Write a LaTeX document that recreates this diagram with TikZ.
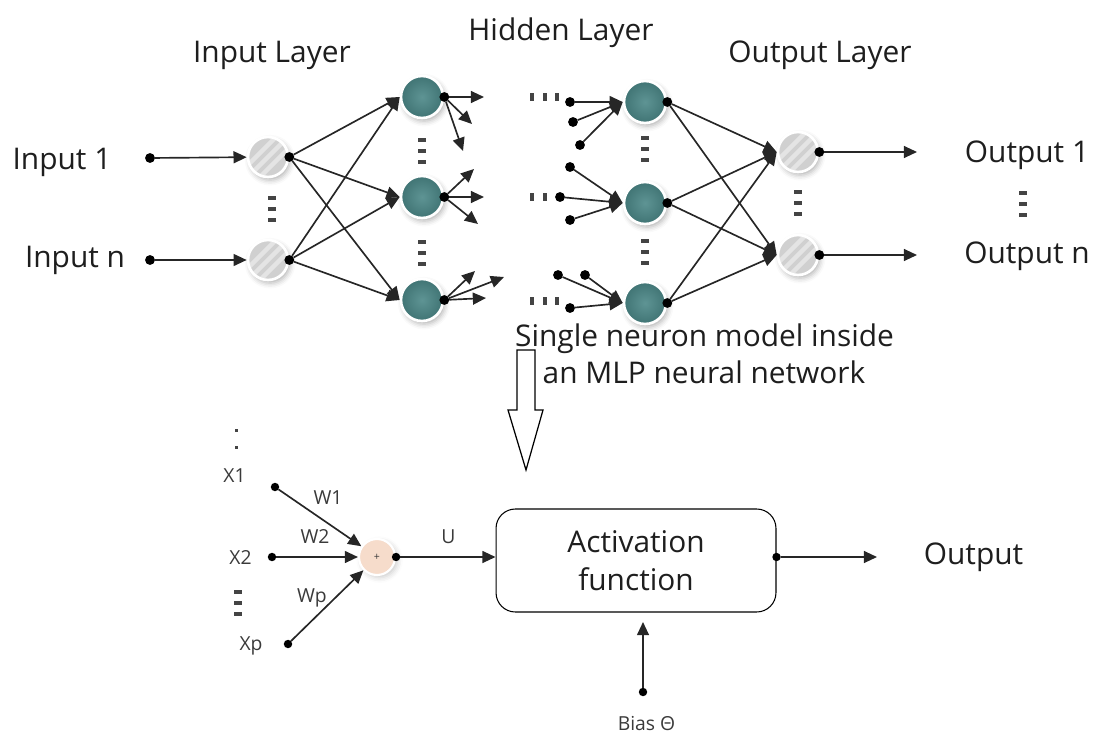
\documentclass[tikz,border=0pt]{standalone}
\usepackage{fontspec}
\setmainfont{Open Sans}
\usetikzlibrary{arrows.meta,shadows.blur}

\definecolor{inkcol}{HTML}{1E1E1E}
\definecolor{linecol}{HTML}{262626}
\definecolor{labelcol}{HTML}{3A3A3A}
\definecolor{tealin}{HTML}{5E9494}
\definecolor{tealout}{HTML}{407474}
\definecolor{greyfill}{HTML}{D0D0D0}
\definecolor{greystripe}{HTML}{E4E4E4}
\definecolor{peach}{HTML}{F6DCCB}
\definecolor{markcol}{HTML}{444444}

\begin{document}
\begin{tikzpicture}[x=0.02cm,y=-0.02cm,
  font=\fontsize{17}{21.5}\selectfont, text=inkcol,
  conn/.style={draw=linecol, line width=0.95pt, -{Triangle[length=7.5pt,width=6.8pt]}},
  dot/.style={circle, fill=black, inner sep=0pt, outer sep=0pt, minimum size=5.6pt},
  smalldot/.style={dot, minimum size=4.8pt},
  layerneuron/.style={circle, inner sep=0pt, draw=white, line width=1.5pt,
    blur shadow={shadow xshift=1.2pt, shadow yshift=-1.8pt, shadow blur radius=3pt, shadow opacity=30}},
  greyneuron/.style={layerneuron, minimum size=0.8cm, fill=greyfill,
    path picture={
      \begin{scope}[shift={(path picture bounding box.center)}]
        \foreach \k in {-12,0,12}
          \draw[greystripe, line width=2.5pt] (\k-25,25) -- (\k+25,-25);
      \end{scope}}},
  tealneuron/.style={layerneuron, minimum size=0.84cm, inner color=tealin, outer color=tealout},
  sumneuron/.style={circle, inner sep=0pt, minimum size=0.72cm, fill=peach, draw=white, line width=1.2pt,
    blur shadow={shadow xshift=1.5pt, shadow yshift=-1.5pt, shadow blur radius=3pt, shadow opacity=20},
    text=labelcol, font=\fontsize{6}{6}\selectfont},
  title/.style={anchor=base},
  smalllabel/.style={anchor=base, text=labelcol, font=\fontsize{11}{12}\selectfont},
  actbox/.style={draw=black, line width=0.6pt, rounded corners=11pt, minimum width=5.6cm,
    minimum height=2.06cm, align=center},
  stackmark/.pic={\foreach \k in {-1,0,1} \fill[markcol] (-3.8,\k*11-1.8) rectangle (3.8,\k*11+1.8);},
  tickmark/.pic={\fill[markcol] (-1.6,-4.2) rectangle (1.6,4.2);}
]
\useasboundingbox (0,0) rectangle (1094,733);

% ---------------- layer titles ----------------
\node[title] (tin)  at (272,62.5) {Input Layer};
\node[title] (thid) at (561,41)   {Hidden Layer};
\node[title] (tout) at (820,62.5) {Output Layer};

% ---------------- input layer ----------------
\node[title] (lin1) at (62,170) {Input 1};
\node[title] (linn) at (75,267) {Input n};
\node[dot] (s1) at (150,158) {};
\node[dot] (sn) at (150,260) {};
\node[greyneuron] (I1) at (268,157) {};
\node[greyneuron] (I2) at (268,260) {};
\node[dot] (i1o) at (I1.east) {};
\node[dot] (i2o) at (I2.east) {};
\draw[conn] (s1) -- (I1);
\draw[conn] (sn) -- (I2);
\pic at (272,209) {stackmark};

% ---------------- first hidden column ----------------
\node[tealneuron] (H1) at (422,97)  {};
\node[tealneuron] (H2) at (422,197) {};
\node[tealneuron] (H3) at (422,300) {};
\node[dot] (h1o) at (H1.east) {};
\node[dot] (h2o) at (H2.east) {};
\node[dot] (h3o) at (H3.east) {};
\pic at (422,151) {stackmark};
\pic at (422,253) {stackmark};

\foreach \src in {i1o,i2o}
  \foreach \dst in {H1,H2,H3}
    \draw[conn] (\src) -- (\dst.west);

% fan-out towards the next layer
\coordinate (f1a) at (484,97);  \coordinate (f1b) at (472,124); \coordinate (f1c) at (463,151);
\coordinate (f2a) at (474,169); \coordinate (f2b) at (484,197); \coordinate (f2c) at (478,224);
\coordinate (f3a) at (475,271); \coordinate (f3b) at (504,277); \coordinate (f3c) at (486,298);
\foreach \e in {f1a,f1b,f1c} \draw[conn] (h1o) -- (\e);
\foreach \e in {f2a,f2b,f2c} \draw[conn] (h2o) -- (\e);
\foreach \e in {f3a,f3b,f3c} \draw[conn] (h3o) -- (\e);

% ---------------- second hidden column ----------------
\node[tealneuron] (H4) at (645,102) {};
\node[tealneuron] (H5) at (645,203) {};
\node[tealneuron] (H6) at (645,303) {};
\node[dot] (h4o) at (H4.east) {};
\node[dot] (h5o) at (H5.east) {};
\node[dot] (h6o) at (H6.east) {};
\pic at (645,149) {stackmark};
\pic at (645,252) {stackmark};

\node[dot] (g4a) at (570,102) {}; \node[dot] (g4b) at (573,122) {}; \node[dot] (g4c) at (580,145) {};
\node[dot] (g5a) at (570,167) {}; \node[dot] (g5b) at (560,197) {}; \node[dot] (g5c) at (570,220) {};
\node[dot] (g6a) at (558,275) {}; \node[dot] (g6b) at (585,275) {}; \node[dot] (g6c) at (570,308) {};
\foreach \s in {g4a,g4b,g4c} \draw[conn] (\s) -- (H4.west);
\foreach \s in {g5a,g5b,g5c} \draw[conn] (\s) -- (H5.west);
\foreach \s in {g6a,g6b,g6c} \draw[conn] (\s) -- (H6.west);

\foreach \x in {532,545,557} \pic at (\x,97) {tickmark};
\foreach \x in {532,545} \pic at (\x,197) {tickmark};
\foreach \x in {532,545,557} \pic at (\x,301) {tickmark};

% ---------------- output layer ----------------
\node[greyneuron] (O1) at (798,152) {};
\node[greyneuron] (O2) at (798,255) {};
\node[dot] (o1o) at (O1.east) {};
\node[dot] (o2o) at (O2.east) {};
\pic at (798,203) {stackmark};

\foreach \src in {h4o,h5o,h6o}
  \foreach \dst in {O1,O2}
    \draw[conn] (\src) -- (\dst.west);

\coordinate (e1) at (917,152);
\coordinate (e2) at (917,255);
\draw[conn] (o1o) -- (e1);
\draw[conn] (o2o) -- (e2);
\node[title] (lout1) at (1027,163) {Output 1};
\node[title] (loutn) at (1027,263) {Output n};
\pic at (1023,204) {stackmark};

% ---------------- hollow arrow and caption ----------------
\draw[black, line width=0.7pt, fill=white]
  (517,350) -- (535,350) -- (535,410) -- (543,410) -- (526,470) -- (508,410) -- (517,410) -- cycle;
\node[title] (cap1) at (704.5,346) {Single neuron model inside};
\node[title] (cap2) at (704,383)   {an MLP neural network};

% ---------------- single neuron model ----------------
\fill[markcol] (235,429) rectangle (237.5,431.5);
\fill[markcol] (235,446) rectangle (237.5,448.5);

\node[smalllabel] (lx1) at (234.5,482) {X1};
\node[smalllabel] (lx2) at (240.5,564) {X2};
\node[smalllabel] (lxp) at (251,650)   {Xp};
\node[smalllabel] (lw1) at (328,504)   {W1};
\node[smalllabel] (lw2) at (315,543)   {W2};
\node[smalllabel] (lwp) at (312,602)   {Wp};
\node[smalllabel] (lu)  at (448.5,543) {U};
\pic at (238,603) {stackmark};

\node[smalldot] (x1) at (275,487) {};
\node[smalldot] (x2) at (272,557) {};
\node[smalldot] (xp) at (288,644) {};
\node[sumneuron] (S) at (377,557) {+};
\node[smalldot] (so) at (S.east) {};
\draw[conn] (x1) -- (S);
\draw[conn] (x2) -- (S);
\draw[conn] (xp) -- (S);

\node[actbox] (act) at (636,560.5) {Activation\\function};
\draw[conn] (so) -- (so -| act.west);

\node[smalldot] (ao) at (act.east |- 0,557) {};
\coordinate (aend) at (877,557);
\draw[conn] (ao) -- (aend);
\node[title] (lo) at (973.5,564) {Output};

\node[smalldot] (bd) at (643,692) {};
\coordinate (btip) at (643,622);
\draw[conn] (bd) -- (btip);
\node[smalllabel] (lb) at (646.5,730) {Bias Θ};
\end{tikzpicture}
\end{document}
